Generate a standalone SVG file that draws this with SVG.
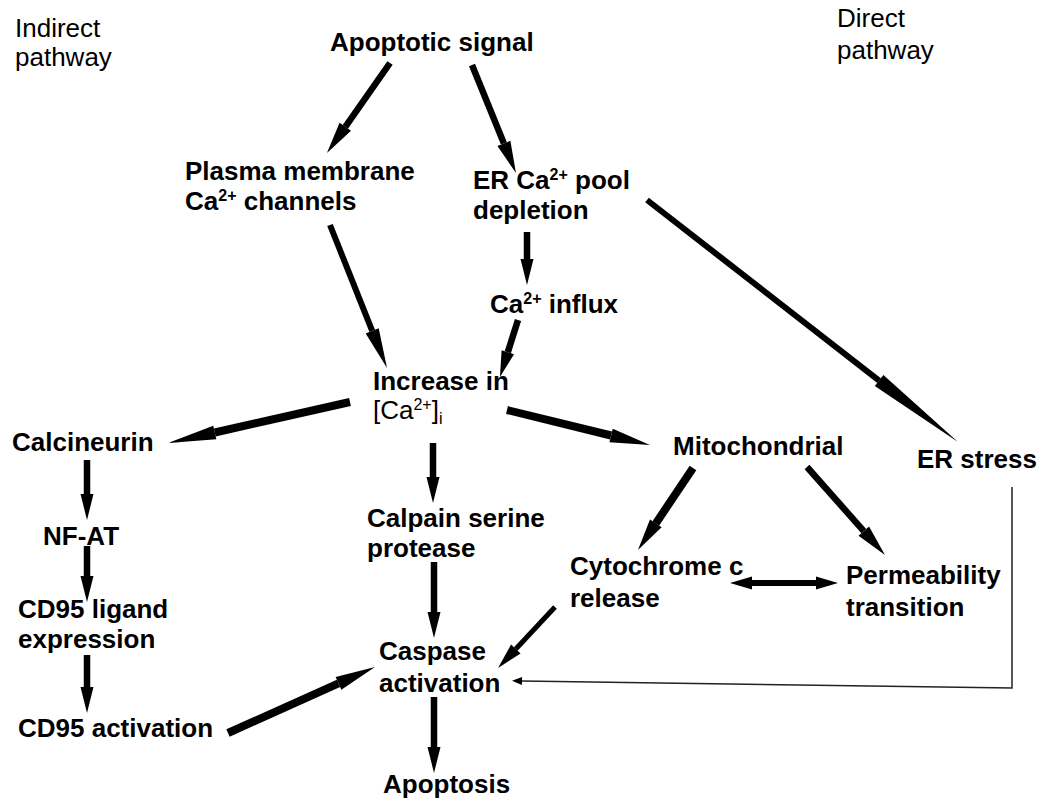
<svg xmlns="http://www.w3.org/2000/svg" width="1053" height="802" viewBox="0 0 1053 802">
<style>
.t{font-family:"Liberation Sans",Arial,sans-serif;font-size:26px;font-weight:bold;fill:#000}
.r{font-weight:normal}
.c{stroke:#000;fill:none;stroke-linecap:butt;stroke-width:6.5}
.w5{stroke-width:5}
.w6{stroke-width:6}
.w8{stroke-width:8}
.thin{stroke-width:1.5;stroke:#222}
.m{fill:#000}
</style>
<defs>
<marker id="a22" markerUnits="userSpaceOnUse" markerWidth="24" markerHeight="14" refX="0" refY="6.5" orient="auto" overflow="visible"><path class="m" d="M0,0 L22,6.5 L0,13 z"/></marker>
<marker id="a22s" markerUnits="userSpaceOnUse" markerWidth="24" markerHeight="14" refX="0" refY="6.5" orient="auto-start-reverse" overflow="visible"><path class="m" d="M0,0 L22,6.5 L0,13 z"/></marker>
<marker id="a26" markerUnits="userSpaceOnUse" markerWidth="28" markerHeight="14" refX="0" refY="6.5" orient="auto" overflow="visible"><path class="m" d="M0,0 L26,6.5 L0,13 z"/></marker>
<marker id="a32" markerUnits="userSpaceOnUse" markerWidth="34" markerHeight="15" refX="0" refY="7" orient="auto" overflow="visible"><path class="m" d="M0,0 L32,7 L0,14 z"/></marker>
<marker id="a40" markerUnits="userSpaceOnUse" markerWidth="42" markerHeight="15" refX="0" refY="7" orient="auto" overflow="visible"><path class="m" d="M0,0 L40,7 L0,14 z"/></marker>
<marker id="a48" markerUnits="userSpaceOnUse" markerWidth="50" markerHeight="15" refX="0" refY="7" orient="auto" overflow="visible"><path class="m" d="M0,0 L48,7 L0,14 z"/></marker>
<marker id="a100" markerUnits="userSpaceOnUse" markerWidth="102" markerHeight="15" refX="0" refY="7" orient="auto" overflow="visible"><path class="m" d="M0,0 L100,7 L0,14 z"/></marker>
<marker id="as" markerUnits="userSpaceOnUse" markerWidth="12" markerHeight="9" refX="0" refY="4" orient="auto" overflow="visible"><path class="m" d="M0,0 L10,4 L0,8 z"/></marker>
</defs>
<rect width="1053" height="802" fill="#fff"/>
<g id="connectors">
<path class="c" d="M390,63 L345.3,126.8" marker-end="url(#a32)"/>
<path class="c" d="M472,65 L503.9,143.4" marker-end="url(#a32)"/>
<path class="c w6" d="M330,225 L372.2,330.8" marker-end="url(#a40)"/>
<path class="c" d="M527,232 L527,259" marker-end="url(#a26)"/>
<path class="c" d="M518,320 L507.8,352.2" marker-end="url(#a26)"/>
<path class="c w8" d="M350,402 L214.8,432.5" marker-end="url(#a48)"/>
<path class="c w8" d="M507,410 L611.1,435.5" marker-end="url(#a40)"/>
<path class="c w6" d="M647,200 L879.1,380.6" marker-end="url(#a100)"/>
<path class="c" d="M87,460 L87,494" marker-end="url(#a26)"/>
<path class="c" d="M87,546 L87,576" marker-end="url(#a26)"/>
<path class="c" d="M87,655 L87,687" marker-end="url(#a26)"/>
<path class="c" d="M433,443 L433,477" marker-end="url(#a26)"/>
<path class="c" d="M434,562 L434,612" marker-end="url(#a26)"/>
<path class="c" d="M434,697 L434,747" marker-end="url(#a26)"/>
<path class="c w8" d="M228,733 L338.5,683.4" marker-end="url(#a40)"/>
<path class="c w8" d="M693,468 L655.8,523.4" marker-end="url(#a32)"/>
<path class="c" d="M807,467 L863.8,531.1" marker-end="url(#a32)"/>
<path class="c w5" d="M555,607 L515.8,649" marker-end="url(#a26)"/>
<path class="c w6" d="M752,583 L816,583" marker-start="url(#a22s)" marker-end="url(#a22)"/>
<path class="c thin" d="M1012,487 L1012,688 L522,681" marker-end="url(#as)"/>
</g>
<g id="label-indirect"><text class="t r" x="15" y="37">Indirect</text><text class="t r" x="15" y="66">pathway</text></g>
<g id="label-direct"><text class="t r" x="837" y="27">Direct</text><text class="t r" x="837" y="59">pathway</text></g>
<g id="n-apoptotic-signal"><text class="t" x="330" y="51">Apoptotic signal</text></g>
<g id="n-plasma-membrane"><text class="t" x="185" y="180">Plasma membrane</text><text class="t" x="185" y="210">Ca<tspan font-size="16" dy="-9">2+</tspan><tspan dy="9"> channels</tspan></text></g>
<g id="n-er-pool"><text class="t" x="473" y="189">ER Ca<tspan font-size="16" dy="-9">2+</tspan><tspan dy="9"> pool</tspan></text><text class="t" x="473" y="219">depletion</text></g>
<g id="n-ca-influx"><text class="t" x="490" y="313">Ca<tspan font-size="16" dy="-9">2+</tspan><tspan dy="9"> influx</tspan></text></g>
<g id="n-increase"><text class="t" x="373" y="390">Increase in</text><text class="t r" x="373" y="419">[Ca<tspan font-size="16" dy="-9">2+</tspan><tspan dy="9">]</tspan><tspan font-size="16" dy="5">i</tspan></text></g>
<g id="n-calcineurin"><text class="t" x="12" y="451">Calcineurin</text></g>
<g id="n-mitochondrial"><text class="t" x="673" y="455">Mitochondrial</text></g>
<g id="n-er-stress"><text class="t" x="917" y="468">ER stress</text></g>
<g id="n-nfat"><text class="t" x="43" y="545">NF-AT</text></g>
<g id="n-calpain"><text class="t" x="367" y="527">Calpain serine</text><text class="t" x="367" y="557">protease</text></g>
<g id="n-cytochrome"><text class="t" x="570" y="575">Cytochrome c</text><text class="t" x="570" y="607">release</text></g>
<g id="n-permeability"><text class="t" x="846" y="584">Permeability</text><text class="t" x="846" y="616">transition</text></g>
<g id="n-cd95-ligand"><text class="t" x="18" y="618">CD95 ligand</text><text class="t" x="18" y="648">expression</text></g>
<g id="n-caspase"><text class="t" x="379" y="660">Caspase</text><text class="t" x="379" y="692">activation</text></g>
<g id="n-cd95-activation"><text class="t" x="18" y="737">CD95 activation</text></g>
<g id="n-apoptosis"><text class="t" x="383" y="793">Apoptosis</text></g>
</svg>
